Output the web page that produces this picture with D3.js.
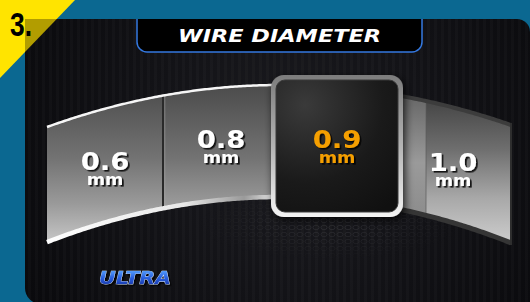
<!DOCTYPE html>
<html>
<head>
<meta charset="utf-8">
<script src="https://cdn.jsdelivr.net/npm/d3@7"></script>
<style>
body { margin: 0; background: #0b6891; }
svg { display: block; }
</style>
</head>
<body>
<svg id="wireChart" width="530" height="302"></svg>
<script>
var sizes = ["0.6", "0.8", "0.9", "1.0"];
var selectedSize = "0.9";
var unitLabel = "mm";
var titleText = "WIRE DIAMETER";
var stepText = "3.";
var brandText = "ULTRA";

var svg = d3.select("#wireChart");
var defs = svg.append("defs");

// one slot per size, the arch band runs across all of them
var x = d3.scalePoint().domain(sizes).range([105, 453]);
var step = x.step();
var bandLeft = x(sizes[0]) - step / 2;
var bandRight = x(sizes[sizes.length - 1]) + step / 2;
var arcCenter = 280;

function arcY(px, peak, kLeft, kRight) {
    var dx = px - arcCenter;
    return peak + (dx < 0 ? kLeft : kRight) * dx * dx;
}
function topY(px) { return arcY(px, 85, 0.000774, 0.00075); }
function bottomY(px) { return arcY(px, 197, 0.00083, 0.00086); }
function midY(px) { return (topY(px) + bottomY(px)) / 2; }
function span(a, b) { return d3.range(a, b, 2).concat([b]); }

var area = d3.area().x(function(d){ return d; }).y0(bottomY).y1(topY);
var topLine = d3.line().x(function(d){ return d; }).y(topY);
var bottomLine = d3.line().x(function(d){ return d; }).y(bottomY);

function gradient(id, x1, y1, x2, y2, stops) {
    var g = defs.append("linearGradient")
            .attr("id", id)
            .attr("gradientUnits", "userSpaceOnUse")
            .attr("x1", x1).attr("y1", y1)
            .attr("x2", x2).attr("y2", y2);
    stops.forEach(function(s){
        g.append("stop").attr("offset", s[0]).attr("stop-color", s[1]);
    });
}

gradient("bandFill", 0, 90, 0, 242, [[0, "#4e4e4e"], [0.45, "#737373"], [0.75, "#9a9a9a"], [1, "#c6c6c6"]]);
gradient("rightFill", 0, 100, 0, 240, [[0, "#454545"], [0.35, "#6e6e6e"], [0.7, "#a8a8a8"], [1, "#cbcbcb"]]);
gradient("stripFill", 0, 100, 0, 225, [[0, "#6a6a6a"], [0.5, "#9a9a9a"], [1, "#8a8a8a"]]);
gradient("edgeFill", 40, 0, 280, 0, [[0, "#ffffff"], [0.6, "#e8e8e8"], [0.85, "#9a9a9a"], [1, "#f4f4f4"]]);
gradient("ringFill", 0, 75, 0, 217, [[0, "#7c7c7c"], [0.5, "#b4b4b4"], [1, "#f4f4f4"]]);
gradient("brandFill", 0, 270, 0, 285, [[0, "#5aa4ff"], [0.5, "#2a62e0"], [1, "#1a3ab0"]]);

var glow = defs.append("radialGradient")
        .attr("id", "panelGlow")
        .attr("gradientUnits", "userSpaceOnUse")
        .attr("cx", 290).attr("cy", 150).attr("r", 300);
glow.append("stop").attr("offset", 0).attr("stop-color", "#1b1b20");
glow.append("stop").attr("offset", 1).attr("stop-color", "#0a0a0d");

var boxGlow = defs.append("radialGradient")
        .attr("id", "boxGlow")
        .attr("gradientUnits", "userSpaceOnUse")
        .attr("cx", 305).attr("cy", 105).attr("r", 130);
boxGlow.append("stop").attr("offset", 0).attr("stop-color", "#3a3a3a");
boxGlow.append("stop").attr("offset", 0.6).attr("stop-color", "#1a1a1a");
boxGlow.append("stop").attr("offset", 1).attr("stop-color", "#101010");

var stripes = defs.append("pattern")
        .attr("id", "stripes")
        .attr("patternUnits", "userSpaceOnUse")
        .attr("width", 7).attr("height", 10);
stripes.append("rect").attr("width", 3).attr("height", 10).attr("fill", "#ffffff").attr("opacity", 0.018);

var mesh = defs.append("pattern")
        .attr("id", "mesh")
        .attr("patternUnits", "userSpaceOnUse")
        .attr("width", 8).attr("height", 7);
mesh.append("ellipse").attr("cx", 4).attr("cy", 3.5).attr("rx", 3).attr("ry", 2.2)
        .attr("fill", "none").attr("stroke", "#2c2c31").attr("stroke-width", 1);

var meshMask = defs.append("radialGradient").attr("id", "meshFade");
meshMask.append("stop").attr("offset", 0).attr("stop-color", "#fff");
meshMask.append("stop").attr("offset", 1).attr("stop-color", "#000");
defs.append("mask").attr("id", "meshMask")
        .append("ellipse").attr("cx", 330).attr("cy", 225).attr("rx", 130).attr("ry", 35)
        .attr("fill", "url(#meshFade)");

var shadow = defs.append("filter").attr("id", "boxShadow")
        .attr("x", -0.2).attr("y", -0.2).attr("width", 1.4).attr("height", 1.4);
shadow.append("feGaussianBlur").attr("in", "SourceAlpha").attr("stdDeviation", 4);
shadow.append("feOffset").attr("dx", 2).attr("dy", 3).attr("result", "off");
shadow.append("feComponentTransfer").append("feFuncA").attr("type", "linear").attr("slope", 0.8);
var merge = shadow.append("feMerge");
merge.append("feMergeNode");
merge.append("feMergeNode").attr("in", "SourceGraphic");

// hard drop shadow under the lettering
defs.append("filter").attr("id", "textShadow")
        .attr("x", -0.1).attr("y", -0.2).attr("width", 1.3).attr("height", 1.5)
        .append("feDropShadow")
        .attr("dx", 1.6).attr("dy", 1.6).attr("stdDeviation", 0.4)
        .attr("flood-color", "#000").attr("flood-opacity", 0.85);

// background and panel
svg.append("rect").attr("width", 530).attr("height", 302).attr("fill", "#0b6891");

var panelPath = "M25,19 H517 A13,13 0 0 1 530,32 V304 H41 A16,16 0 0 1 25,288 Z";
defs.append("clipPath").attr("id", "panelClip").append("path").attr("d", panelPath);

svg.append("polygon").attr("points", "0,0 75,0 0,78").attr("fill", "#ffe400");

svg.append("path").attr("d", panelPath).attr("fill", "url(#panelGlow)");
svg.append("path").attr("d", panelPath).attr("fill", "url(#stripes)");
svg.append("rect").attr("x", 200).attr("y", 185).attr("width", 260).attr("height", 80)
        .attr("fill", "url(#mesh)").attr("mask", "url(#meshMask)");

svg.append("polygon").attr("points", "0,0 75,0 0,78")
        .attr("clip-path", "url(#panelClip)")
        .attr("fill", "#b29d00");

svg.append("text")
        .attr("x", 10).attr("y", 36)
        .attr("textLength", 22).attr("lengthAdjust", "spacingAndGlyphs")
        .style("font-family", "'Liberation Sans Narrow', 'Liberation Sans', sans-serif")
        .style("font-weight", "bold")
        .style("font-size", "34px")
        .attr("fill", "#000")
        .text(stepText);

// title tab
svg.append("path")
        .attr("d", "M137,19 V42 A10,10 0 0 0 147,52 H412 A10,10 0 0 0 422,42 V19 Z")
        .attr("fill", "#000");
svg.append("path")
        .attr("d", "M137,19 V42 A10,10 0 0 0 147,52 H412 A10,10 0 0 0 422,42 V19")
        .attr("fill", "none")
        .attr("stroke", "#3478e0")
        .attr("stroke-width", 1.5);
svg.append("text")
        .attr("x", 279.5).attr("y", 42)
        .attr("text-anchor", "middle")
        .attr("textLength", 203).attr("lengthAdjust", "spacingAndGlyphs")
        .style("font-family", "'DejaVu Sans', sans-serif")
        .style("font-weight", "bold")
        .style("font-style", "italic")
        .style("font-size", "17.5px")
        .attr("fill", "#fff")
        .text(titleText);

// arch band
var selX = x(selectedSize);
var boxW = 132, boxH = 142, boxTop = 75;
var boxLeft = selX - boxW / 2, boxRight = selX + boxW / 2;

var leftSpan = span(bandLeft, selX);
var rightSpan = span(boxRight - 8, bandRight);

svg.append("path").attr("d", area(leftSpan)).attr("fill", "url(#bandFill)");
svg.append("path").attr("d", area(rightSpan)).attr("fill", "url(#rightFill)");
svg.append("path").attr("d", area(span(boxRight - 8, boxRight + 23))).attr("fill", "url(#stripFill)");

// dividers between slots
sizes.forEach(function(s, i){
    if (i === 0) return;
    var bx = x(s) - step / 2;
    if (bx > boxLeft - 4 && bx < boxRight + 4) return;
    svg.append("line")
            .attr("x1", bx).attr("x2", bx)
            .attr("y1", topY(bx)).attr("y2", bottomY(bx))
            .attr("stroke", "#2a2a2a").attr("stroke-width", 2);
    svg.append("line")
            .attr("x1", bx + 1.8).attr("x2", bx + 1.8)
            .attr("y1", topY(bx)).attr("y2", bottomY(bx))
            .attr("stroke", "#a8a8a8").attr("stroke-width", 0.8).attr("opacity", 0.6);
});
svg.append("line")
        .attr("x1", boxRight + 23).attr("x2", boxRight + 23)
        .attr("y1", topY(boxRight + 23)).attr("y2", bottomY(boxRight + 23))
        .attr("stroke", "#5a5a5a").attr("stroke-width", 1).attr("opacity", 0.7);

// band edges
svg.append("path").attr("d", topLine(leftSpan))
        .attr("fill", "none").attr("stroke", "#f6f6f6").attr("stroke-width", 2.5);
svg.append("path").attr("d", bottomLine(leftSpan))
        .attr("fill", "none").attr("stroke", "url(#edgeFill)").attr("stroke-width", 4.5);
svg.append("path").attr("d", topLine(rightSpan))
        .attr("fill", "none").attr("stroke", "#3c3c3c").attr("stroke-width", 4);
svg.append("path").attr("d", bottomLine(rightSpan))
        .attr("fill", "none").attr("stroke", "#353535").attr("stroke-width", 5);
svg.append("line")
        .attr("x1", bandRight).attr("x2", bandRight)
        .attr("y1", topY(bandRight) - 2).attr("y2", bottomY(bandRight) + 2)
        .attr("stroke", "#2e2e2e").attr("stroke-width", 2);

// selected box
svg.append("rect")
        .attr("x", boxLeft).attr("y", boxTop)
        .attr("width", boxW).attr("height", boxH)
        .attr("rx", 13)
        .attr("fill", "url(#ringFill)")
        .attr("filter", "url(#boxShadow)");
svg.append("rect")
        .attr("x", boxLeft + 5).attr("y", boxTop + 5)
        .attr("width", boxW - 10).attr("height", boxH - 10)
        .attr("rx", 9)
        .attr("fill", "url(#boxGlow)")
        .attr("stroke", "#3a3a3a").attr("stroke-width", 1);

// size labels: value on top, unit tucked underneath
var labels = svg.selectAll("text.sizeLabel")
        .data(sizes)
        .enter().append("text")
        .attr("class", "sizeLabel")
        .attr("filter", "url(#textShadow)")
        .attr("transform", function(d){ return "translate(" + x(d) + "," + (midY(x(d)) + (d === sizes[sizes.length - 1] ? 6 : 4.5)) + ") scale(1.1,1)"; })
        .attr("text-anchor", "middle")
        .style("font-family", "'DejaVu Sans', sans-serif")
        .style("font-weight", "bold")
        .attr("fill", function(d){ return d === selectedSize ? "#f59f00" : "#ffffff"; });

labels.append("tspan")
        .attr("x", 0)
        .style("font-size", "25px")
        .text(function(d){ return d; });
labels.append("tspan")
        .attr("x", 0).attr("dy", 14.5)
        .style("font-size", "16px")
        .text(unitLabel);

// brand mark
svg.append("text")
        .attr("x", 99).attr("y", 284)
        .attr("textLength", 72).attr("lengthAdjust", "spacingAndGlyphs")
        .attr("filter", "url(#textShadow)")
        .style("font-family", "'DejaVu Sans', sans-serif")
        .style("font-weight", "bold")
        .style("font-style", "italic")
        .style("font-size", "18px")
        .attr("fill", "url(#brandFill)")
        .attr("stroke", "#cfe2ff").attr("stroke-width", 0.7)
        .style("paint-order", "stroke")
        .text(brandText);
</script>
</body>
</html>
